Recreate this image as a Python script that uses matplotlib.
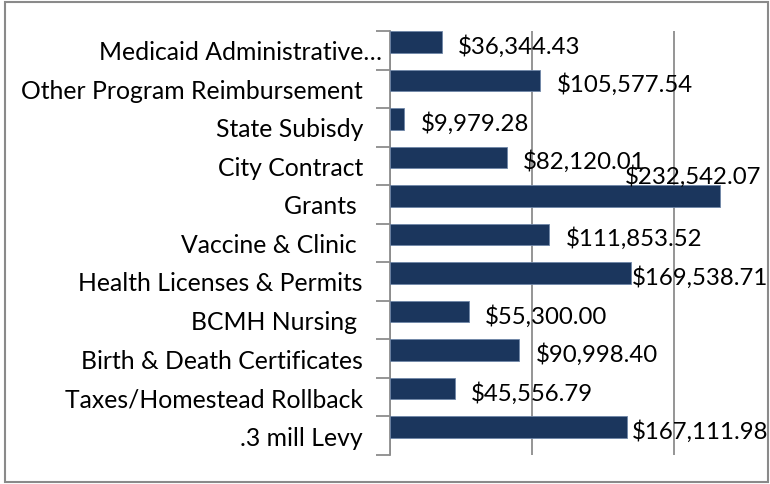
import matplotlib
matplotlib.use("Agg")
import matplotlib.pyplot as plt
from matplotlib.patches import Rectangle
from matplotlib.ticker import MultipleLocator, FixedLocator

categories = [
    "Medicaid Administrative\u2026",
    "Other Program Reimbursement",
    "State Subisdy",
    "City Contract",
    "Grants ",
    "Vaccine & Clinic ",
    "Health Licenses & Permits",
    "BCMH Nursing ",
    "Birth & Death Certificates",
    "Taxes/Homestead Rollback",
    ".3 mill Levy",
]
amounts = [36344.43, 105577.54, 9979.28, 82120.01, 232542.07, 111853.52,
           169538.71, 55300.00, 90998.40, 45556.79, 167111.98]

bar_color = "#1b365d"
grid_color = "#8c8c8c"
plt.rcParams["font.family"] = ["Lato", "DejaVu Sans"]
cat_size = 17.8
val_size = 17.3

fig = plt.figure(figsize=(7.7, 4.85), dpi=100)
ax = fig.add_axes([390 / 770, 1 - 456 / 485, 355 / 770, 424 / 485])

bar_h = 0.56
# excel leaves the bar in the upper part of each category slot
bar_top = [i - 0.5 for i in range(len(categories))]
ax.barh(bar_top, amounts, height=bar_h, align="edge", color=bar_color,
        edgecolor="#6f86a8", linewidth=0.6, zorder=3)
ax.set_xlim(0, 250000)
ax.set_ylim(len(categories) - 0.5, -0.5)

ax.xaxis.set_major_locator(MultipleLocator(100000))
ax.grid(axis="x", color=grid_color, linewidth=1.3, zorder=1)
ax.tick_params(axis="x", length=0, labelbottom=False)

# ticks between categories, labels drawn separately
ax.set_yticks([])
ax.yaxis.set_minor_locator(FixedLocator([i - 0.5 for i in range(len(categories) + 1)]))
ax.tick_params(axis="y", which="minor", length=10, width=1.3, color=grid_color)
for side in ["top", "right", "bottom"]:
    ax.spines[side].set_visible(False)
ax.spines["left"].set_color(grid_color)
ax.spines["left"].set_linewidth(1.3)

for i, name in enumerate(categories):
    pad = 6 if name.endswith("\u2026") else 19.5
    ax.annotate(name, xy=(0, i), xycoords=("axes fraction", "data"),
                xytext=(-pad, -1), textcoords="offset points",
                ha="right", va="center", fontsize=cat_size)

fig.canvas.draw()
renderer = fig.canvas.get_renderer()
right_px = 768
for i, v in enumerate(amounts):
    label = "${:,.2f}".format(v)
    yc = bar_top[i] + bar_h / 2
    t = ax.annotate(label, xy=(v, yc), xytext=(12, -2.5), textcoords="offset points",
                    ha="left", va="center", fontsize=val_size, zorder=4)
    bb = t.get_window_extent(renderer)
    bar_end = ax.transData.transform((v, yc))[0]
    if bb.x1 > right_px:
        over = bb.x1 - right_px
        shift = over * 72 / fig.dpi
        if bb.x0 - over < bar_end - 2:
            # no room beside the bar: put it above, right aligned
            t.set_position((12 - shift - 4.5, 15))
        else:
            t.set_position((12 - shift, -2.5))

fig.add_artist(Rectangle((5 / 770, 2 / 485), 763 / 770, 480 / 485,
                         transform=fig.transFigure, fill=False,
                         edgecolor="#8a8a8a", linewidth=1.5))

fig.savefig("out.png", dpi=100)
